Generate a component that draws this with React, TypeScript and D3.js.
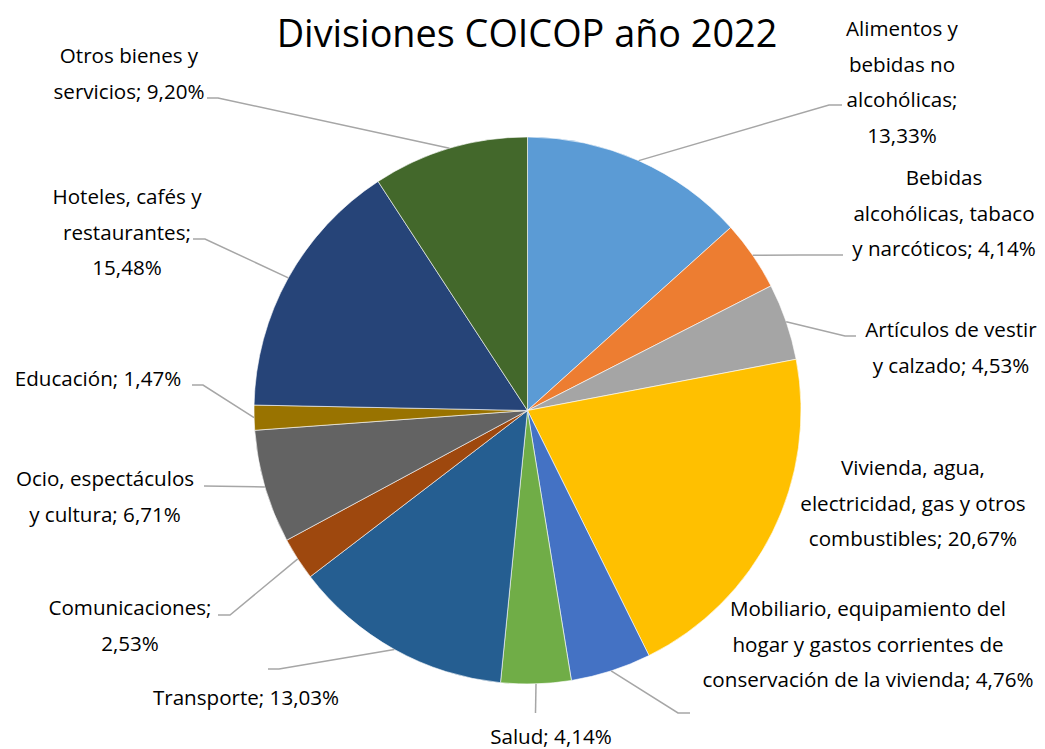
import React from "react";
import * as d3 from "d3";

const title = "Divisiones COICOP año 2022";

const categories = [
  "Alimentos y bebidas no alcohólicas",
  "Bebidas alcohólicas, tabaco y narcóticos",
  "Artículos de vestir y calzado",
  "Vivienda, agua, electricidad, gas y otros combustibles",
  "Mobiliario, equipamiento del hogar y gastos corrientes de conservación de la vivienda",
  "Salud",
  "Transporte",
  "Comunicaciones",
  "Ocio, espectáculos y cultura",
  "Educación",
  "Hoteles, cafés y restaurantes",
  "Otros bienes y servicios",
];

const values = [13.33, 4.14, 4.53, 20.67, 4.76, 4.14, 13.03, 2.53, 6.71, 1.47, 15.48, 9.2];

// label text broken into lines as displayed
const labelLines = [
  ["Alimentos y", "bebidas no", "alcohólicas;", "13,33%"],
  ["Bebidas", "alcohólicas, tabaco", "y narcóticos; 4,14%"],
  ["Artículos de vestir", "y calzado; 4,53%"],
  ["Vivienda, agua,", "electricidad, gas y otros", "combustibles; 20,67%"],
  ["Mobiliario, equipamiento del", "hogar y gastos corrientes de", "conservación de la vivienda; 4,76%"],
  ["Salud; 4,14%"],
  ["Transporte; 13,03%"],
  ["Comunicaciones;", "2,53%"],
  ["Ocio, espectáculos", "y cultura; 6,71%"],
  ["Educación; 1,47%"],
  ["Hoteles, cafés y", "restaurantes;", "15,48%"],
  ["Otros bienes y", "servicios; 9,20%"],
];

const colors = [
  "#5B9BD5", "#ED7D31", "#A5A5A5", "#FFC000", "#4472C4", "#70AD47",
  "#255E91", "#9E480E", "#636363", "#997300", "#264478", "#43682B",
];

// layout: label center x, first line center y, leader elbow and end (null = no leader)
const labelLayout = [
  { x: 902, y: 28, elbow: [829, 105], end: [842, 105] },
  { x: 944, y: 177, elbow: [800, 255], end: [843, 255] },
  { x: 951, y: 329, elbow: [845, 336], end: [856, 336] },
  { x: 913, y: 467, elbow: null, end: null },
  { x: 868, y: 608, elbow: [678, 713], end: [690, 713] },
  { x: 551, y: 736, elbow: [535.5, 713], end: [535.5, 713] },
  { x: 246, y: 697, elbow: [279, 669], end: [268, 669] },
  { x: 130, y: 607, elbow: [230, 615], end: [218, 615] },
  { x: 105, y: 478, elbow: [204, 486], end: [204, 486] },
  { x: 98, y: 378, elbow: [203, 385], end: [192, 385] },
  { x: 127, y: 196, elbow: [205, 239], end: [193, 239] },
  { x: 129, y: 55, elbow: [218, 98], end: [207, 98] },
];

const W = 1045;
const H = 749;
const cx = 527.5;
const cy = 410.5;
const R = 273.5;
const lineH = 35.7;
const FONT = "'Open Sans', 'Noto Sans', sans-serif";

export default function App() {
  const pie = d3.pie<number>().sort(null).value((d) => d);
  const arcs = pie(values);
  const arc = d3.arc<d3.PieArcDatum<number>>().innerRadius(0).outerRadius(R);

  return (
    <div style={{ position: "fixed", left: 0, top: 0, width: W, height: H, background: "#fff" }}>
      <svg width={W} height={H} style={{ display: "block" }}>
        <rect x={0} y={0} width={W} height={H} fill="#fff" />
        <text
          x={527}
          y={32}
          textAnchor="middle"
          dominantBaseline="central"
          fontFamily={FONT}
          fontSize={37.8}
          fill="#000"
        >
          {title}
        </text>
        <g transform={`translate(${cx},${cy})`}>
          {arcs.map((a, i) => (
            <path key={categories[i]} d={arc(a) || ""} fill={colors[i]} stroke="#fff" strokeWidth={0.6} />
          ))}
        </g>
        {arcs.map((a, i) => {
          const L = labelLayout[i];
          if (!L.elbow || !L.end) return null;
          const mid = (a.startAngle + a.endAngle) / 2;
          const sx = cx + R * Math.sin(mid);
          const sy = cy - R * Math.cos(mid);
          const pts = [[sx, sy], L.elbow, L.end];
          return (
            <path
              key={"l" + i}
              d={d3.line()(pts as [number, number][]) || ""}
              fill="none"
              stroke="#A6A6A6"
              strokeWidth={1.5}
            />
          );
        })}
        {labelLines.map((lines, i) => {
          const L = labelLayout[i];
          return (
            <text
              key={"t" + i}
              textAnchor="middle"
              fontFamily={FONT}
              fontSize={20.6}
              fill="#000"
            >
              {lines.map((ln, j) => (
                <tspan key={j} x={L.x} y={L.y + j * lineH} dominantBaseline="central">
                  {ln}
                </tspan>
              ))}
            </text>
          );
        })}
      </svg>
    </div>
  );
}
